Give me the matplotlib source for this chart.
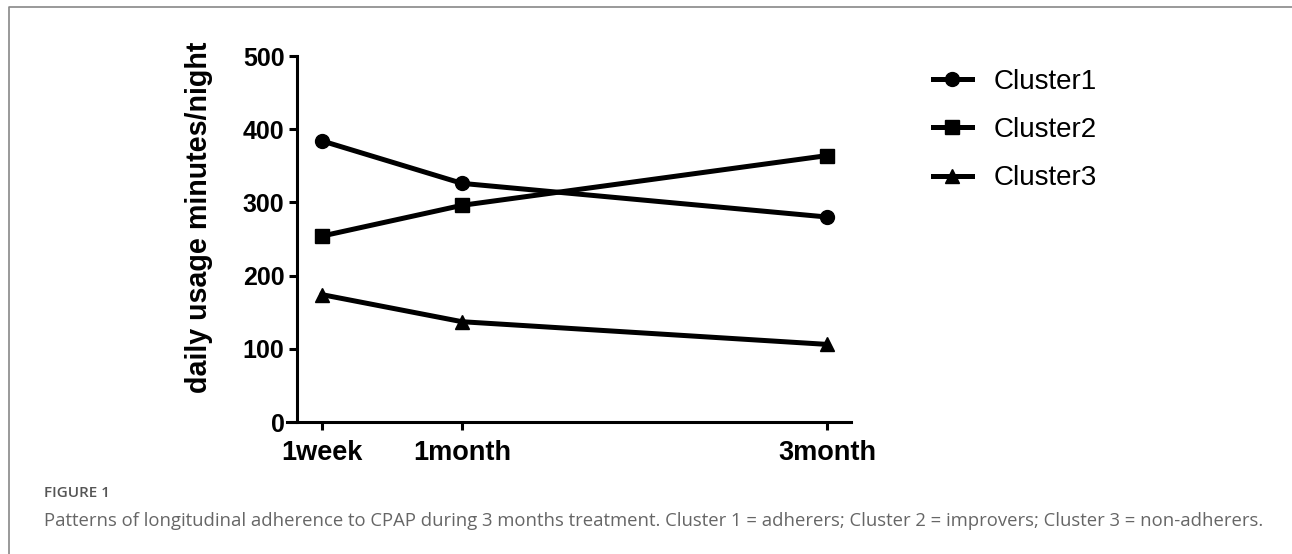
import matplotlib.pyplot as plt
from matplotlib.lines import Line2D

# time points (days since start) and tick labels
days = [7, 30, 90]
tick_labels = ["1week", "1month", "3month"]

cluster1 = [384, 326, 280]
cluster2 = [254, 296, 364]
cluster3 = [174, 137, 106]

names = ["Cluster1", "Cluster2", "Cluster3"]
markers = ["o", "s", "^"]

fig = plt.figure(figsize=(12.92, 5.54), dpi=100)
ax = fig.add_axes([287 / 1292, 1 - 422 / 554, (851 - 287) / 1292, (422 - 56) / 554])

for vals, name, mk in zip([cluster1, cluster2, cluster3], names, markers):
    ax.plot(days, vals, color="black", linewidth=3.6, marker=mk,
            markersize=10, label=name, solid_joinstyle="round")

ax.set_xlim(1.25, 93.9)
ax.set_ylim(0, 500)
ax.spines["top"].set_visible(False)
ax.spines["right"].set_visible(False)
ax.spines["left"].set_position(("data", 2.9))
for s in ["left", "bottom"]:
    ax.spines[s].set_linewidth(2.2)
ax.set_yticks([0, 100, 200, 300, 400, 500])
ax.set_xticks(days)
ax.set_xticklabels(tick_labels)
ax.tick_params(width=2.2, length=6)
ax.tick_params(axis="y", labelsize=18, pad=3)
ax.tick_params(axis="x", labelsize=19.5, pad=7)
for lab in ax.get_xticklabels() + ax.get_yticklabels():
    lab.set_fontfamily("Liberation Sans")
    lab.set_fontweight("bold")
ax.set_ylabel("daily usage minutes/night", fontsize=20.6, fontweight="bold",
              family="Liberation Sans")
ax.yaxis.set_label_coords(-0.131, 0.56)

leg = ax.legend(loc="center left", bbox_to_anchor=(908 / 1292, 1 - 130 / 554),
                bbox_transform=fig.transFigure, frameon=False,
                prop={"family": "Liberation Sans", "size": 20},
                handlelength=1.4, handletextpad=0.8, labelspacing=0.8)

# figure caption
fig.text(44 / 1292, 1 - 493 / 554, "FIGURE 1", fontsize=11, color="#555555",
         family="Open Sans", fontweight="semibold", va="center")
fig.text(44 / 1292, 1 - 521 / 554,
         "Patterns of longitudinal adherence to CPAP during 3 months treatment. "
         "Cluster 1 = adherers; Cluster 2 = improvers; Cluster 3 = non-adherers.",
         fontsize=13.3, color="#666666", family="Open Sans", va="center")

# open frame (top and left edges)
fig.add_artist(Line2D([9 / 1292, 9 / 1292, 1], [0, 1 - 7 / 554, 1 - 7 / 554],
                      transform=fig.transFigure, color="#888888", linewidth=1.2))

fig.savefig("out.png", dpi=100)
